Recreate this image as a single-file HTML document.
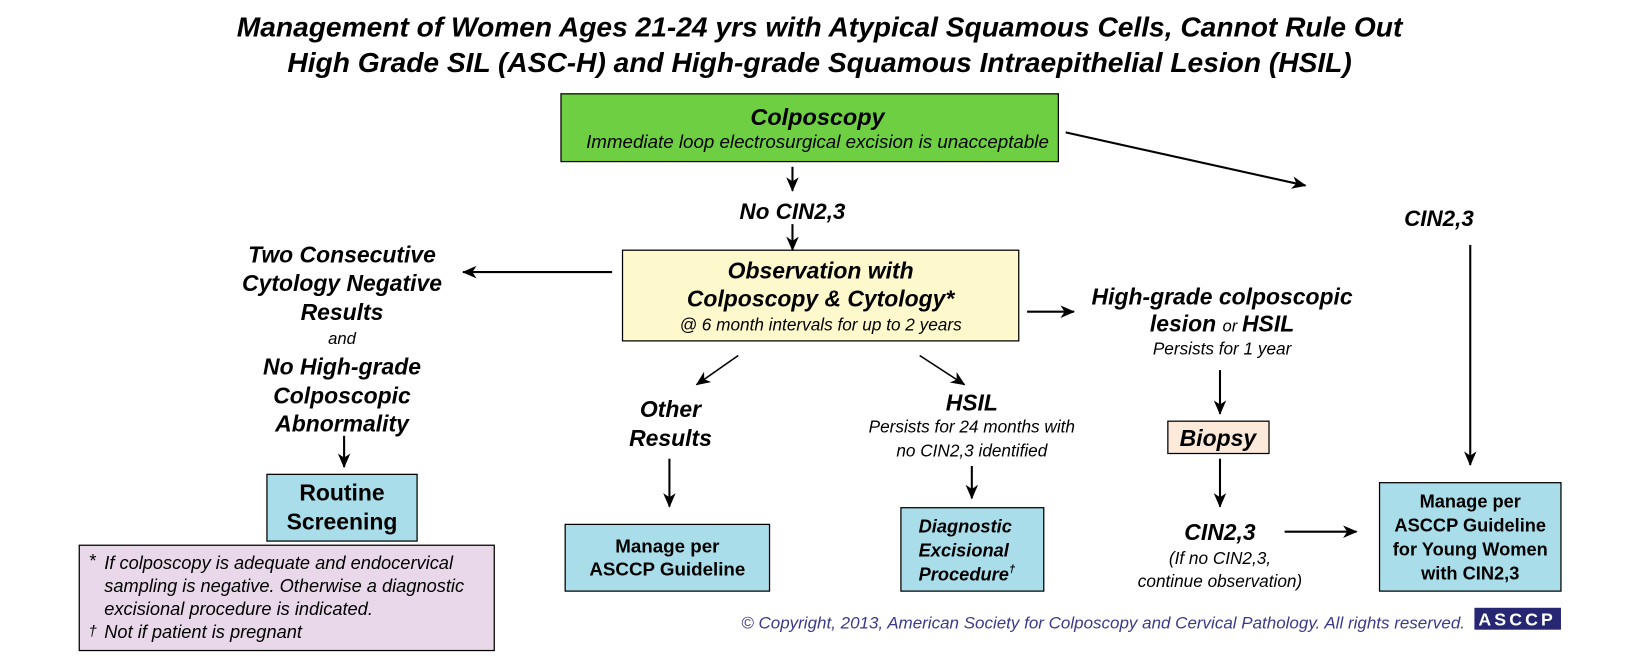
<!DOCTYPE html>
<html><head><meta charset="utf-8"><style>
html,body{margin:0;padding:0;background:#fff;}
svg{display:block;font-family:"Liberation Sans",Arial,sans-serif;}
.bi{font-weight:bold;font-style:italic;}
.i{font-style:italic;}
.b{font-weight:bold;}
</style></head><body>
<svg width="1635" height="662" viewBox="0 0 1568 635" preserveAspectRatio="none" xmlns="http://www.w3.org/2000/svg">
<defs>
<marker id="ah" markerWidth="14" markerHeight="14" refX="13" refY="6" orient="auto" markerUnits="userSpaceOnUse">
<path d="M0,0 L14,6 L0,12 L4,6 z" fill="#000"/>
</marker>
</defs>
<g text-anchor="middle">
<text x="786" y="35" class="bi" font-size="27">Management of Women Ages 21-24 yrs with Atypical Squamous Cells, Cannot Rule Out</text>
<text x="786" y="69" class="bi" font-size="27">High Grade SIL (ASC-H) and High-grade Squamous Intraepithelial Lesion (HSIL)</text>

<rect x="538" y="90" width="477" height="65" fill="#6dcf41" stroke="#000" stroke-width="1.2"/>
<text x="784" y="120" class="bi" font-size="22.5">Colposcopy</text>
<text x="784" y="142" class="i" font-size="18">Immediate loop electrosurgical excision is unacceptable</text>

<text x="760" y="210" class="bi" font-size="21.5">No CIN2,3</text>
<text x="1380" y="217" class="bi" font-size="21.5">CIN2,3</text>

<rect x="597" y="240" width="380" height="87" fill="#fef9cd" stroke="#000" stroke-width="1.2"/>
<text x="787" y="267" class="bi" font-size="22">Observation with</text>
<text x="787" y="294" class="bi" font-size="22">Colposcopy &amp; Cytology*</text>
<text x="787" y="317" class="i" font-size="16.5">@ 6 month intervals for up to 2 years</text>

<g class="bi" font-size="22">
<text x="328" y="252">Two Consecutive</text>
<text x="328" y="279">Cytology Negative</text>
<text x="328" y="307">Results</text>
<text x="328" y="359">No High-grade</text>
<text x="328" y="387">Colposcopic</text>
<text x="328" y="414">Abnormality</text>
</g>
<text x="328" y="330" class="i" font-size="16">and</text>

<rect x="256" y="455" width="144" height="64" fill="#a8dde9" stroke="#000" stroke-width="1.2"/>
<text x="328" y="480" class="b" font-size="22">Routine</text>
<text x="328" y="508" class="b" font-size="22">Screening</text>

<text x="643" y="400" class="bi" font-size="22">Other</text>
<text x="643" y="428" class="bi" font-size="22">Results</text>
<rect x="542" y="503" width="196" height="64" fill="#a8dde9" stroke="#000" stroke-width="1.2"/>
<text x="640" y="530" class="b" font-size="18">Manage per</text>
<text x="640" y="552" class="b" font-size="18">ASCCP Guideline</text>

<text x="932" y="394" class="bi" font-size="22">HSIL</text>
<text x="932" y="415" class="i" font-size="16.5">Persists for 24 months with</text>
<text x="932" y="438" class="i" font-size="16.5">no CIN2,3 identified</text>
<rect x="864" y="487" width="137" height="80" fill="#a8dde9" stroke="#000" stroke-width="1.2"/>
<g text-anchor="start" class="bi" font-size="17.5">
<text x="881" y="511">Diagnostic</text>
<text x="881" y="534">Excisional</text>
<text x="881" y="557">Procedure<tspan font-size="11" dy="-8">†</tspan></text>
</g>

<text x="1172" y="292" class="bi" font-size="22">High-grade colposcopic</text>
<text x="1172" y="318"><tspan class="bi" font-size="22">lesion </tspan><tspan class="i" font-size="16">or </tspan><tspan class="bi" font-size="22">HSIL</tspan></text>
<text x="1172" y="340" class="i" font-size="16.5">Persists for 1 year</text>

<rect x="1120" y="404" width="97" height="31" fill="#fde9d9" stroke="#000" stroke-width="1.2"/>
<text x="1168" y="428" class="bi" font-size="22">Biopsy</text>

<text x="1170" y="518" class="bi" font-size="22">CIN2,3</text>
<text x="1170" y="541" class="i" font-size="16.5">(If no CIN2,3,</text>
<text x="1170" y="563" class="i" font-size="16.5">continue observation)</text>

<rect x="1323" y="463" width="174" height="104" fill="#a8dde9" stroke="#000" stroke-width="1.2"/>
<g class="b" font-size="17.5">
<text x="1410" y="487">Manage per</text>
<text x="1410" y="510">ASCCP Guideline</text>
<text x="1410" y="533">for Young Women</text>
<text x="1410" y="556">with CIN2,3</text>
</g>
</g>

<rect x="76" y="523" width="398" height="101" fill="#e8d8e9" stroke="#000" stroke-width="1.2"/>
<g class="i" font-size="17.5">
<text x="85" y="544">*</text>
<text x="100" y="546">If colposcopy is adequate and endocervical</text>
<text x="100" y="568">sampling is negative. Otherwise a diagnostic</text>
<text x="100" y="590">excisional procedure is indicated.</text>
<text x="85" y="610" font-size="14">†</text>
<text x="100" y="612">Not if patient is pregnant</text>
</g>

<text x="1405" y="603" text-anchor="end" class="i" font-size="16.3" fill="#3a3a8c">© Copyright, 2013, American Society for Colposcopy and Cervical Pathology. All rights reserved.</text>
<rect x="1414" y="583" width="83" height="21" fill="#262673"/>
<text x="1455" y="600" text-anchor="middle" font-size="17" fill="#fff" font-weight="bold" letter-spacing="3">ASCCP</text>

<g stroke="#000" stroke-width="2" marker-end="url(#ah)" fill="none">
<line x1="760" y1="160" x2="760" y2="183"/>
<line x1="760" y1="215" x2="760" y2="240"/>
<line x1="1022" y1="127" x2="1252" y2="178"/>
<line x1="587" y1="261" x2="444" y2="261"/>
<line x1="330" y1="418" x2="330" y2="448"/>
<line x1="708" y1="341" x2="668" y2="369" stroke-width="1.5"/>
<line x1="642" y1="440" x2="642" y2="486"/>
<line x1="882" y1="341" x2="925" y2="369" stroke-width="1.5"/>
<line x1="932" y1="447" x2="932" y2="478"/>
<line x1="985" y1="299" x2="1030" y2="299"/>
<line x1="1170" y1="355" x2="1170" y2="397"/>
<line x1="1170" y1="440" x2="1170" y2="486"/>
<line x1="1232" y1="510" x2="1301" y2="510"/>
<line x1="1410" y1="235" x2="1410" y2="446"/>
</g>
</svg>
</body></html>
